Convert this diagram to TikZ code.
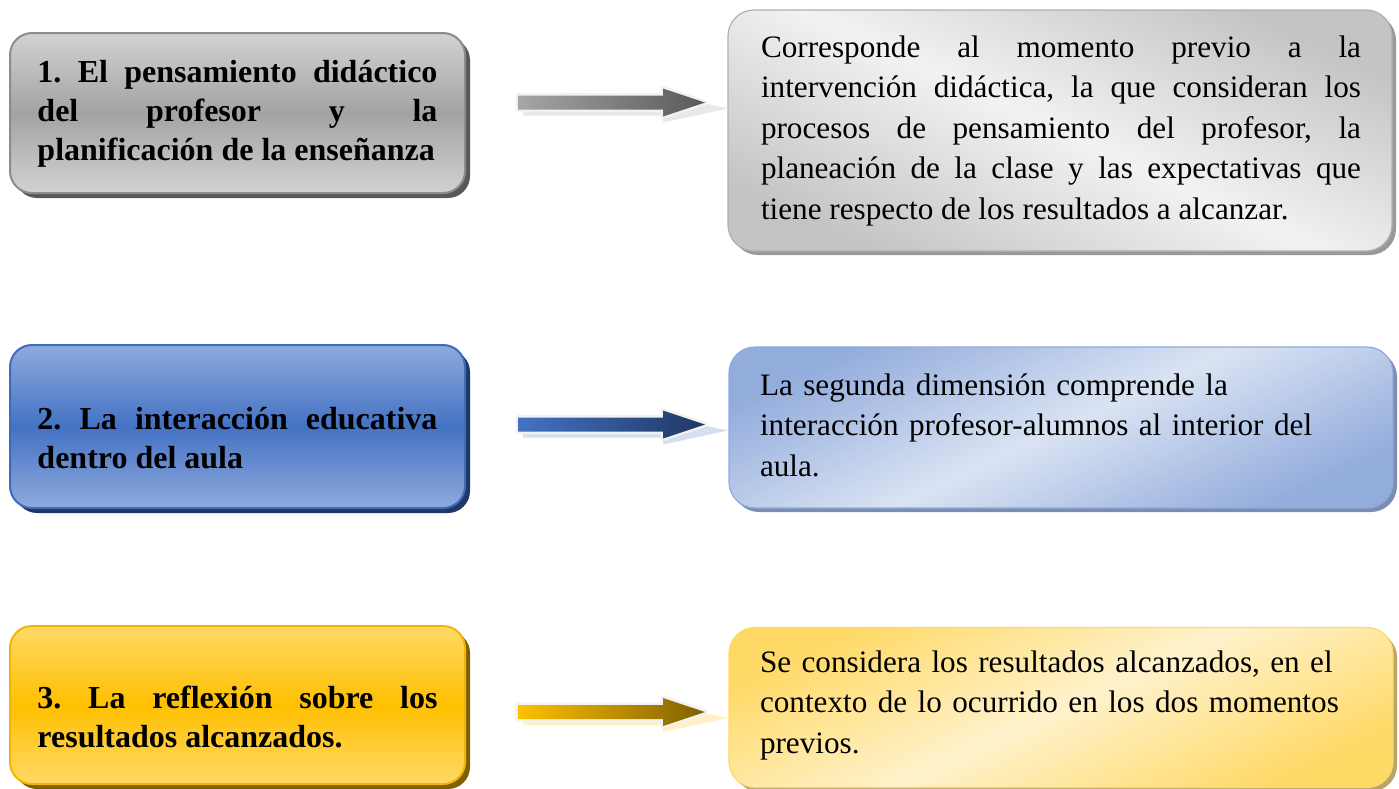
\documentclass[tikz,border=0pt]{standalone}
\usepackage{fontspec}
\setmainfont{Liberation Serif}
\usetikzlibrary{calc,shadows}
\hyphenpenalty=10000
\frenchspacing
\definecolor{gLtop}{HTML}{D2D2D2}
\definecolor{gLmid}{HTML}{A3A3A3}
\definecolor{gLdraw}{HTML}{8C8C8C}
\definecolor{gLshad}{HTML}{595959}
\definecolor{bLtop}{HTML}{8FAADC}
\definecolor{bLmid}{HTML}{4472C4}
\definecolor{bLdraw}{HTML}{3F6BBB}
\definecolor{bLshad}{HTML}{203864}
\definecolor{yLtop}{HTML}{FFD966}
\definecolor{yLmid}{HTML}{FFC000}
\definecolor{yLdraw}{HTML}{F2B600}
\definecolor{yLshad}{HTML}{7F6000}
\definecolor{gRdark}{HTML}{C4C4C4}
\definecolor{gRlight}{HTML}{F2F2F2}
\definecolor{gRdraw}{HTML}{B0B0B0}
\definecolor{gRshad}{HTML}{999999}
\definecolor{bRdark}{HTML}{92ACDC}
\definecolor{bRlight}{HTML}{DAE3F3}
\definecolor{bRdraw}{HTML}{8EAADB}
\definecolor{bRshad}{HTML}{7B8DB0}
\definecolor{yRdark}{HTML}{FFD966}
\definecolor{yRlight}{HTML}{FFF2CC}
\definecolor{yRdraw}{HTML}{FFD966}
\definecolor{yRshad}{HTML}{B7A56A}
\definecolor{agA}{HTML}{A6A6A6}
\definecolor{agB}{HTML}{595959}
\definecolor{agS}{HTML}{E8E8E8}
\definecolor{abA}{HTML}{4472C4}
\definecolor{abB}{HTML}{203864}
\definecolor{abS}{HTML}{D6DFF0}
\definecolor{ayA}{HTML}{FFC000}
\definecolor{ayB}{HTML}{806000}
\definecolor{ayS}{HTML}{FFF0C8}
\newcommand\arrowpath[3]{($(#1)+(0,-7)$) -- ($(#2)+(-#3,-7)$) -- ($(#2)+(-#3,-14)$) -- (#2)
  -- ($(#2)+(-#3,14)$) -- ($(#2)+(-#3,7)$) -- ($(#1)+(0,7)$) -- cycle}
\begin{document}
\begin{tikzpicture}[x=0.5pt,y=-0.5pt,
  dimbox/.style n args={4}{rounded corners=11pt,minimum width=227.5pt,
    top color=#1,bottom color=#1,middle color=#2,draw=#3,line width=1pt,
    drop shadow={shadow xshift=2.5pt,shadow yshift=-2.5pt,fill=#4,opacity=1}},
  descbox/.style n args={5}{rounded corners=13pt,minimum width=332pt,
    left color=#1,right color=#1,middle color=#2,shading angle=#5,draw=#3,line width=0.6pt,
    drop shadow={shadow xshift=2pt,shadow yshift=-2pt,fill=#4,opacity=1}},
  dimtext/.style={text width=200pt,align=justify,inner sep=0pt,
    font=\fontsize{16}{19.5}\selectfont\bfseries},
  desctext/.style={text width=300pt,inner sep=0pt,font=\fontsize{15.6}{20.25}\selectfont}]
\useasboundingbox (0,0) rectangle (1399,788);

\node[dimbox={gLtop}{gLmid}{gLdraw}{gLshad},minimum height=80pt] (dim1) at (237.5,113) {};
\node[dimtext] (dim1t) at (237.5,114)
  {1. El pensamiento didáctico\linebreak del profesor y la\linebreak planificación de la enseñanza};
\node[dimbox={bLtop}{bLmid}{bLdraw}{bLshad},minimum height=81.5pt] (dim2) at (237.5,426.5) {};
\node[dimtext] (dim2t) at (237.5,438)
  {2. La interacción educativa\linebreak dentro del aula};
\node[dimbox={yLtop}{yLmid}{yLdraw}{yLshad},minimum height=79pt] (dim3) at (237.5,705) {};
\node[dimtext] (dim3t) at (237.5,717)
  {3. La reflexión sobre los\linebreak resultados alcanzados.};

\node[descbox={gRdark}{gRlight}{gRdraw}{gRshad}{-25},minimum height=120.5pt] (desc1) at (1060,130.5) {};
\node[desctext,align=justify] (desc1t) at (1061,130.5)
  {Corresponde al momento previo a la\linebreak intervención didáctica, la que consideran los\linebreak
   procesos de pensamiento del profesor, la\linebreak planeación de la clase y las expectativas que\linebreak
   tiene respecto de los resultados a alcanzar.};
\node[descbox={bRdark}{bRlight}{bRdraw}{bRshad}{25},minimum height=80.5pt] (desc2) at (1061,427.5) {};
\node[desctext,align=left] (desc2t) at (1060,425)
  {La segunda dimensión comprende la\\ interacción profesor-alumnos al interior del\\ aula.};
\node[descbox={yRdark}{yRlight}{yRdraw}{yRshad}{25},minimum height=80pt] (desc3) at (1061,707.5) {};
\node[desctext,align=left] (desc3t) at (1060,705)
  {Se considera los resultados alcanzados, en el\\ contexto de lo ocurrido en los dos momentos\\ previos.};

\coordinate (a1s) at (518,102.5);
\coordinate (a1e) at (705,102.5);
\coordinate (a2s) at (518,424.5);
\coordinate (a2e) at (705,424.5);
\coordinate (a3s) at (518,712);
\coordinate (a3e) at (705,712);
\foreach \i/\ca/\cb/\cs in {1/agA/agB/agS,2/abA/abB/abS,3/ayA/ayB/ayS}{
  \coordinate (s\i s) at ($(a\i s)+(5,6)$);
  \coordinate (s\i e) at ($(a\i e)+(23,6)$);
  \fill[\cs] \arrowpath{s\i s}{s\i e}{65};
  \path[preaction={draw=gray!10,line width=2.5pt,line join=round},
    left color=\ca,right color=\cb] \arrowpath{a\i s}{a\i e}{42};
}
\end{tikzpicture}
\end{document}
